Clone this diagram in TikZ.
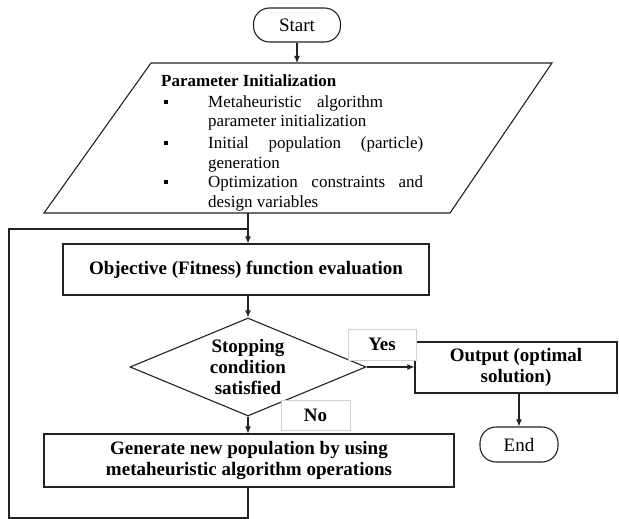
\documentclass[tikz,border=0pt]{standalone}
\usepackage{fontspec}
\setmainfont{Liberation Serif}
\usetikzlibrary{arrows.meta,shapes.geometric}
\newcommand\mylbl{\fontsize{19}{21}\selectfont\bfseries}
\newcommand\mynorm{\fontsize{19}{21}\selectfont}
\newcommand\myhead{\fontsize{17}{20}\selectfont\bfseries}
\newcommand\mytxt{\fontsize{17}{20}\selectfont}
\definecolor{linec}{HTML}{222222}
\begin{document}
\begin{tikzpicture}[x=1pt,y=-1pt,
  line/.style={draw=linec, line width=1.1pt},
  box/.style={line, rectangle, inner sep=0pt, align=center, font=\mylbl},
  term/.style={box, rounded corners=16pt, font=\mynorm},
  dia/.style={line, diamond, aspect=2.4, inner sep=0pt, align=center, font=\mylbl},
  lab/.style={draw=black!18, line width=0.6pt, fill=white, inner sep=0pt, font=\mylbl},
  arr/.style={line, -{Latex[length=7pt,width=6pt]}},
  txt/.style={anchor=base west, inner sep=0pt, font=\mytxt},
  bul/.style={fill=black, inner sep=0pt, minimum size=3.6pt, rectangle}]
\useasboundingbox[fill=white] (0,0) rectangle (619,519);

% nodes
\node[term, minimum width=87pt, minimum height=34pt] (start) at (297,25) {Start};

\draw[line] (151,63) coordinate (pTL) -- (552,63) coordinate (pTR)
  -- (450,213) coordinate (pBR) -- (44,213) coordinate (pBL) -- cycle;
\coordinate (pin) at (297,63);
\coordinate (pout) at (248,213);

\node[anchor=base west, inner sep=0pt, font=\myhead] (phead) at (161,87) {Parameter Initialization};
\node[bul] (b1) at (166,102) {};
\node[bul] (b2) at (166,143) {};
\node[bul] (b3) at (166,182) {};
\node[txt] (l1) at (208,107) {\makebox[175pt][s]{Metaheuristic algorithm}};
\node[txt] (l2) at (208,127) {parameter initialization};
\node[txt] (l3) at (208,148) {\makebox[215pt][s]{Initial population (particle)}};
\node[txt] (l4) at (208,168) {generation};
\node[txt] (l5) at (208,187) {\makebox[215pt][s]{Optimization constraints and}};
\node[txt] (l6) at (208,207) {design variables};

\node[box, minimum width=366pt, minimum height=51pt] (obj) at (246,269.5) {Objective (Fitness) function evaluation};
\node[dia, minimum width=236pt, minimum height=98pt] (cond) at (248,367) {Stopping\\condition\\satisfied};
\node[box, minimum width=202pt, minimum height=51pt] (out) at (516,367.5) {Output (optimal\\solution)};
\node[term, minimum width=78pt, minimum height=35pt] (end) at (519,444.5) {End};
\node[box, minimum width=410pt, minimum height=53pt] (gen) at (249,460.5) {Generate new population by using\\metaheuristic algorithm operations};
\node[lab, minimum width=68pt, minimum height=31pt] (yes) at (382,344.5) {Yes};
\node[lab, minimum width=69pt, minimum height=30pt] (no) at (315.5,415) {No};

% connectors
\coordinate (lj) at (248,229);
\coordinate (lb) at (9,518);
\coordinate (lt) at (9,229);
\draw[arr] (start.south) -- (pin);
\draw[arr] (pout) -- (obj.north -| pout);
\draw[arr] (obj.south -| cond.north) -- (cond.north);
\draw[arr] (cond.east) -- (cond.east -| out.west);
\draw[arr] (out.south -| end.north) -- (end.north);
\draw[arr] (cond.south) -- (gen.north -| cond.south);
\draw[line] (gen.south -| lj) |- (lb) -- (lt) -- (lj);
\end{tikzpicture}
\end{document}
